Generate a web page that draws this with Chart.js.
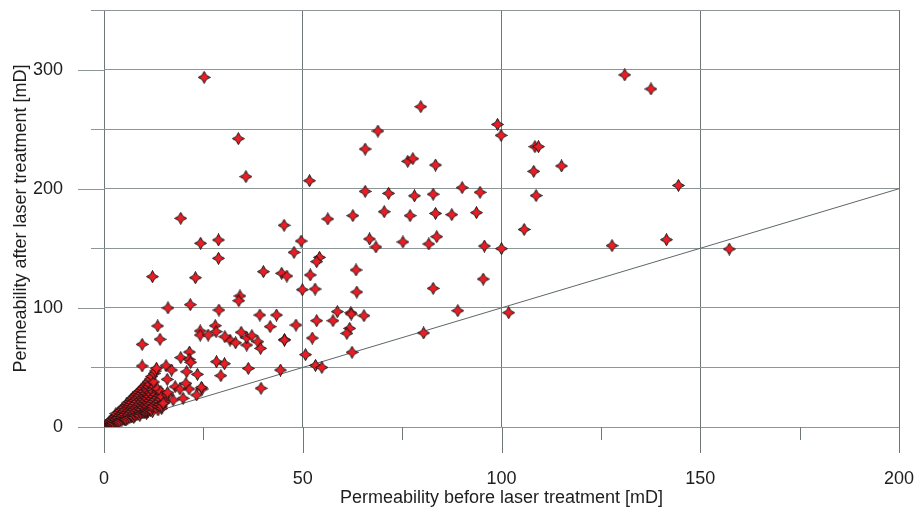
<!DOCTYPE html>
<html>
<head>
<meta charset="utf-8">
<script src="https://cdn.jsdelivr.net/npm/chart.js@4.4.1/dist/chart.umd.min.js"></script>
<style>
  html, body { margin: 0; padding: 0; background: #fff; }
</style>
</head>
<body>
<canvas id="chart" width="917" height="507"></canvas>
<script>
// permeability before / after laser treatment [mD]

const X_TICKS = [0, 25, 50, 75, 100, 125, 150, 175, 200];
const Y_TICKS = [0, 50, 100, 150, 200, 250, 300, 350];
const X_LABELS = ["0", "", "50", "", "100", "", "150", "", "200"];
const Y_LABELS = ["0", "", "100", "", "200", "", "300", ""];

// dense bunch near the origin
const clusterPts = [
  [0.4, 0.5], [0.5, 1.1], [0.9, 0.9], [0.8, 1.9], [1.2, 1.5], [1.1, 2.6], [1.3, 3.9], [1.6, 2.0],
  [1.7, 3.1], [1.5, 5.0], [2.0, 2.4], [2.1, 3.7], [1.9, 6.2], [2.3, 5.3], [2.4, 7.6], [2.5, 2.9],
  [2.7, 4.6], [2.8, 8.7], [2.9, 6.4], [3.1, 3.6], [3.2, 9.9], [3.0, 11.2], [3.3, 5.2], [3.5, 7.7],
  [3.5, 3.8], [3.6, 4.2], [3.7, 12.4], [3.9, 6.0], [3.9, 9.6], [4.1, 13.8], [4.0, 4.8], [4.3, 8.1],
  [4.4, 11.0], [4.5, 5.7], [4.6, 15.0], [4.8, 7.0], [4.7, 9.4], [4.9, 12.8], [5.1, 6.3], [5.0, 16.6],
  [5.2, 10.5], [5.3, 14.3], [5.5, 8.4], [5.6, 18.3], [5.5, 5.9], [5.5, 6.6], [5.7, 12.0], [5.9, 15.9],
  [5.8, 20.0], [6.0, 7.3], [6.1, 10.2], [6.2, 13.6], [6.3, 17.5], [6.4, 21.4], [6.5, 8.0], [6.5, 11.6],
  [6.7, 15.0], [6.6, 19.0], [6.8, 23.0], [6.9, 9.1], [7.0, 12.9], [7.1, 16.8], [7.0, 20.6], [7.2, 24.4],
  [7.3, 8.6], [7.5, 8.0], [7.4, 11.0], [7.5, 14.4], [7.4, 18.3], [7.6, 22.1], [7.7, 26.0], [7.8, 9.6],
  [7.9, 12.6], [8.0, 16.0], [7.9, 19.8], [8.1, 23.6], [8.2, 27.5], [8.3, 10.4], [8.4, 14.0], [8.5, 17.6],
  [8.4, 21.4], [8.6, 25.1], [8.7, 29.2], [8.8, 11.0], [9.0, 9.6], [8.9, 12.9], [9.0, 15.7], [8.9, 19.2],
  [9.1, 22.9], [9.0, 26.6], [9.2, 30.8], [9.3, 11.8], [9.4, 14.6], [9.5, 17.9], [9.4, 21.0], [9.6, 24.4],
  [9.5, 28.2], [9.7, 32.5], [9.8, 12.4], [9.9, 16.3], [10.0, 19.6], [9.9, 22.8], [10.1, 26.0], [10.0, 29.8],
  [10.2, 34.3], [10.1, 12.0], [10.3, 13.2], [10.4, 15.1], [10.5, 18.4], [10.4, 21.7], [10.6, 24.9],
  [10.5, 28.0], [10.7, 31.7], [10.6, 36.0], [10.7, 11.3], [10.7, 12.7], [10.8, 14.0], [10.9, 17.0],
  [11.0, 20.3], [10.9, 23.6], [11.1, 27.0], [11.0, 30.2], [11.2, 33.9], [11.1, 38.0], [11.2, 13.4],
  [11.3, 15.0], [11.4, 18.7], [11.5, 22.2], [11.4, 25.6], [11.6, 29.2], [11.5, 35.9], [11.6, 40.2],
  [11.7, 14.2], [11.8, 16.1], [11.9, 20.0], [12.0, 23.8], [11.9, 27.6], [12.1, 31.4], [12.0, 42.5],
  [12.2, 12.8], [12.2, 15.9], [12.3, 17.3], [12.4, 21.6], [12.5, 25.5], [12.4, 29.6], [12.6, 33.8],
  [12.5, 37.8], [12.6, 44.8], [12.8, 18.6], [12.9, 23.0], [13.0, 27.4], [12.9, 47.0], [13.2, 49.3],
  [13.3, 20.0], [13.4, 24.6], [13.5, 29.5], [13.4, 32.0], [13.6, 14.3], [13.6, 17.5], [13.8, 21.5],
  [13.9, 26.3], [14.0, 18.8], [14.2, 23.4], [14.4, 28.0], [14.5, 15.5], [14.5, 17.6], [14.7, 20.3],
  [15.0, 24.8]
];

// lower left, outside the bunch
const lowPts = [
  [9.6, 69.4], [31.7, 73.0], [33.1, 70.7], [35.9, 68.8], [38.7, 71.6], [39.4, 66.0],
  [9.6, 51.2], [15.6, 51.5], [17.0, 47.8], [19.3, 58.2], [21.5, 62.9], [21.4, 56.8], [21.8, 54.3],
  [28.3, 54.8], [30.3, 53.1], [36.3, 49.2], [20.8, 46.4], [23.5, 44.2], [29.4, 43.1], [15.9, 40.0],
  [39.5, 32.5], [17.9, 33.8], [19.1, 31.9], [21.4, 31.9], [20.6, 36.6], [23.3, 26.9], [24.7, 31.9],
  [24.5, 33.3], [19.9, 24.1], [17.4, 22.7], [14.3, 29.6], [14.5, 25.4], [15.3, 21.2], [15.9, 26.9],
  [16.0, 28.8], [14.9, 19.9]
];

// middle band, x below 50
const midPts = [
  [25.2, 293.5], [33.8, 242.0], [35.7, 210.1], [19.3, 175.2], [24.3, 154.2], [28.8, 157.0],
  [28.8, 141.6], [40.1, 130.4], [12.2, 126.2], [23.0, 125.3], [34.2, 110.0], [33.9, 106.0],
  [16.1, 99.9], [21.7, 102.7], [28.9, 98.2], [39.2, 94.0], [43.4, 94.0], [13.5, 84.8],
  [28.0, 85.0], [41.8, 84.2], [24.2, 80.6], [24.2, 77.2], [28.2, 80.0], [26.2, 77.2],
  [30.4, 75.8], [34.5, 79.5], [35.9, 75.0], [37.2, 76.6], [14.1, 73.6], [45.4, 73.3]
];

// upper right spread
const highPts = [
  [131.0, 295.5], [137.6, 283.7], [144.5, 202.8], [141.5, 157.2], [127.8, 152.2], [157.3, 149.4],
  [79.7, 268.8], [99.0, 254.0], [99.9, 244.8], [68.9, 248.4], [65.7, 233.3], [76.4, 223.0],
  [77.7, 225.2], [83.4, 219.9], [108.4, 235.3], [109.3, 235.3], [108.1, 214.6], [115.1, 219.1],
  [108.7, 194.2], [51.7, 206.7], [65.7, 197.8], [71.6, 196.1], [78.1, 194.0], [82.8, 195.4],
  [90.1, 200.9], [94.6, 197.0], [70.5, 180.7], [77.0, 177.4], [83.4, 179.3], [87.5, 178.2],
  [93.7, 179.9], [56.3, 174.6], [62.6, 177.4], [45.3, 169.3], [105.7, 165.8], [66.8, 157.8],
  [68.4, 151.1], [75.2, 155.3], [81.7, 153.6], [83.7, 159.7], [95.7, 151.9], [100.0, 149.7],
  [49.6, 156.1], [47.8, 146.6], [54.2, 142.4], [53.5, 138.8], [63.4, 131.8], [51.9, 127.6],
  [44.7, 129.0], [46.0, 126.7], [49.9, 115.2], [53.1, 115.8], [63.6, 113.3], [82.8, 116.4],
  [95.4, 124.2], [58.7, 96.8], [62.1, 95.9], [62.2, 94.8], [65.4, 93.4], [89.0, 97.6],
  [101.8, 95.9], [48.3, 85.6], [53.5, 89.2], [57.6, 89.2], [61.8, 82.8], [61.1, 78.6],
  [45.4, 73.0], [52.4, 74.7], [50.7, 60.7], [62.4, 62.7], [53.2, 51.7], [54.8, 50.0],
  [44.4, 47.8], [80.4, 78.9]
];

const equalLine = [0, 200]; // y = x reference line

const allPts = clusterPts.concat(lowPts, midPts, highPts).map(([x, y]) => ({ x: x, y: y }));

function makeStar() {
  const c = document.createElement("canvas");
  c.width = 13;
  c.height = 13;
  const g = c.getContext("2d");
  g.beginPath();
  for (let i = 0; i < 8; i++) {
    const a = (i * Math.PI) / 4 - Math.PI / 2;
    const rad = i % 2 === 0 ? 6 : 3;
    const px = 6.5 + rad * Math.cos(a);
    const py = 6.5 + rad * Math.sin(a);
    if (i === 0) g.moveTo(px, py);
    else g.lineTo(px, py);
  }
  g.closePath();
  g.fillStyle = "#ec1c24";
  g.fill();
  g.strokeStyle = "#141414";
  g.lineWidth = 1;
  g.stroke();
  return c;
}

const TEXT = "#1e1e1e";
const FONT = { family: "'Liberation Sans', Arial, sans-serif", size: 18 };
const H_GRID = "#8d9697";
const V_GRID = "#6f7879";

// kill the extra room chart.js reserves for the big label padding
function noPad(s) {
  s.paddingTop = 0;
  s.paddingBottom = 0;
  s.paddingLeft = 0;
  s.paddingRight = 0;
}

// tick marks outside the plot: long ones at labelled values, short in between
const tickMarks = {
  id: "tickMarks",
  afterDraw(chart) {
    const ctx = chart.ctx;
    const xs = chart.scales.x;
    const ys = chart.scales.y;
    const area = chart.chartArea;
    ctx.save();
    ctx.strokeStyle = V_GRID;
    ctx.lineWidth = 1;
    X_TICKS.forEach((v, i) => {
      const px = Math.round(xs.getPixelForValue(v)) + 0.5;
      const len = X_LABELS[i] ? 26 : 13;
      ctx.beginPath();
      ctx.moveTo(px, area.bottom);
      ctx.lineTo(px, area.bottom + len);
      ctx.stroke();
    });
    ctx.strokeStyle = H_GRID;
    Y_TICKS.forEach((v, i) => {
      const py = Math.round(ys.getPixelForValue(v)) + 0.5;
      const len = Y_LABELS[i] ? 26 : 13;
      ctx.beginPath();
      ctx.moveTo(area.left - len, py);
      ctx.lineTo(area.left, py);
      ctx.stroke();
    });
    ctx.restore();
  },
};

new Chart(document.getElementById("chart"), {
  data: {
    datasets: [
      {
        type: "scatter",
        data: allPts,
        pointStyle: makeStar(),
        pointRadius: 6,
        order: 0,
      },
      {
        type: "line",
        data: equalLine.map((v) => ({ x: v, y: v })),
        borderColor: "#5d6667",
        borderWidth: 1,
        pointRadius: 0,
        order: 1,
      },
    ],
  },
  options: {
    responsive: false,
    devicePixelRatio: 1,
    animation: false,
    layout: { padding: { top: 10, right: 18, left: 0, bottom: 0 } },
    plugins: { legend: { display: false }, tooltip: { enabled: false } },
    scales: {
      x: {
        type: "linear",
        min: 0,
        max: 200,
        afterBuildTicks: (s) => { s.ticks = X_TICKS.map((v) => ({ value: v })); },
        afterFit: (s) => { s.height = 80; noPad(s); },
        border: { display: false },
        grid: {
          drawTicks: false,
          color: (c) => (c.tick && X_LABELS[X_TICKS.indexOf(c.tick.value)] ? V_GRID : "rgba(0,0,0,0)"),
        },
        ticks: {
          color: TEXT,
          font: FONT,
          padding: 41,
          maxRotation: 0,
          autoSkip: false,
          callback: (v) => X_LABELS[X_TICKS.indexOf(v)],
        },
        title: {
          display: true,
          text: "Permeability before laser treatment [mD]",
          color: TEXT,
          font: FONT,
          padding: { top: 0, bottom: -2 },
        },
      },
      y: {
        type: "linear",
        min: 0,
        max: 350,
        afterBuildTicks: (s) => { s.ticks = Y_TICKS.map((v) => ({ value: v })); },
        afterFit: (s) => { s.width = 104; noPad(s); },
        border: { display: false },
        grid: { drawTicks: false, color: H_GRID },
        ticks: {
          color: TEXT,
          font: FONT,
          padding: 41,
          autoSkip: false,
          callback: (v) => Y_LABELS[Y_TICKS.indexOf(v)],
        },
        title: {
          display: true,
          text: "Permeability after laser treatment [mD]",
          color: TEXT,
          font: FONT,
          padding: { top: 10, bottom: 0 },
        },
      },
    },
  },
  plugins: [tickMarks],
});
</script>
</body>
</html>
